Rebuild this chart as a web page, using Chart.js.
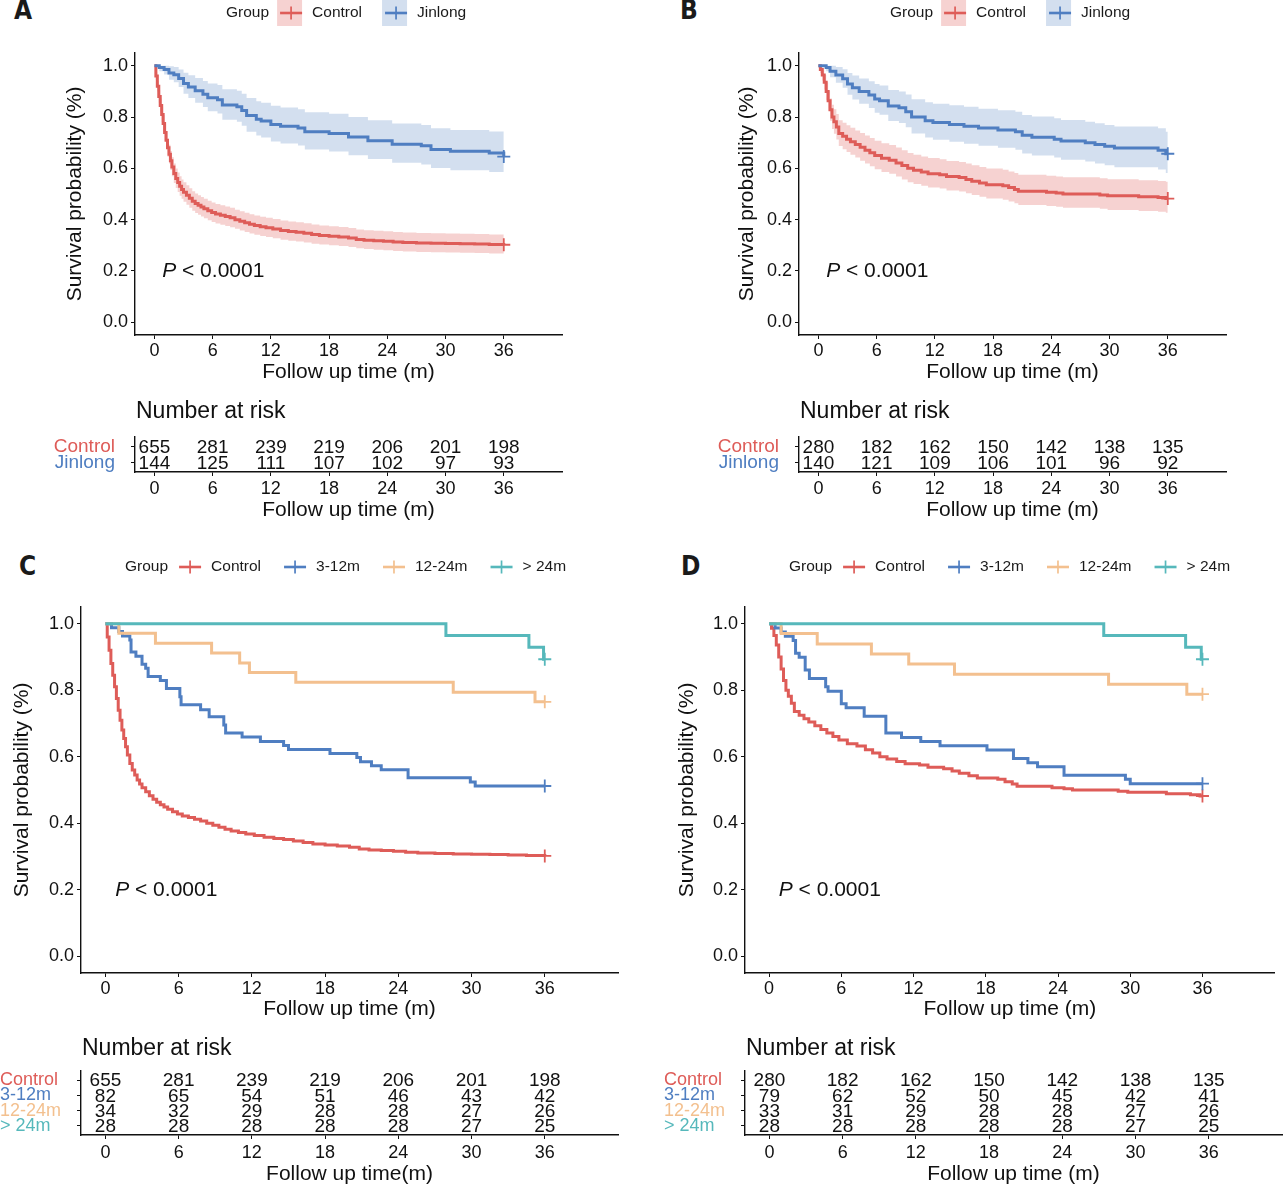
<!DOCTYPE html>
<html>
<head>
<meta charset="utf-8">
<script src="https://cdn.jsdelivr.net/npm/chart.js@4.4.1/dist/chart.umd.min.js"></script>
<style>
  body { margin: 0; background: #fff; width: 1283px; height: 1187px; position: relative; overflow: hidden; }
  .box { position: absolute; }
  .tag { position: absolute; font: bold 26px/26px "DejaVu Sans Condensed", "DejaVu Sans", sans-serif; color: #1a1a1a; }
</style>
</head>
<body>
<div class="tag" style="left:14px;top:-3px">A</div>
<div class="tag" style="left:680px;top:-3px">B</div>
<div class="tag" style="left:19px;top:553px">C</div>
<div class="tag" style="left:681px;top:553px">D</div>

<div class="box" style="left:0;top:0;width:640px;height:390px"><canvas id="kmA"></canvas></div>
<div class="box" style="left:664px;top:0;width:619px;height:390px"><canvas id="kmB"></canvas></div>
<div class="box" style="left:0;top:390px;width:640px;height:140px"><canvas id="riskA"></canvas></div>
<div class="box" style="left:664px;top:390px;width:619px;height:140px"><canvas id="riskB"></canvas></div>
<div class="box" style="left:0;top:550px;width:640px;height:480px"><canvas id="kmC"></canvas></div>
<div class="box" style="left:664px;top:550px;width:619px;height:480px"><canvas id="kmD"></canvas></div>
<div class="box" style="left:0;top:1030px;width:640px;height:157px"><canvas id="riskC"></canvas></div>
<div class="box" style="left:664px;top:1030px;width:619px;height:157px"><canvas id="riskD"></canvas></div>

<script>
// ---- data ----
const months = [0, 6, 12, 18, 24, 30, 36];
const survTicks = [0, 0.2, 0.4, 0.6, 0.8, 1.0];
const groupsAB = ['Control', 'Jinlong'];
const groupsCD = ['Control', '3-12m', '12-24m', '> 24m'];
const pValueText = ['P', ' < 0.0001'];

// Kaplan-Meier rows: [month, survival, lower CI, upper CI]
const controlA = [
  [0, 1.000, 1.000, 1.000], [0.15, 0.960, 0.945, 0.975], [0.3, 0.920, 0.900, 0.940],
  [0.45, 0.880, 0.856, 0.905], [0.6, 0.845, 0.818, 0.873], [0.75, 0.810, 0.781, 0.840],
  [0.9, 0.775, 0.744, 0.807], [1.05, 0.740, 0.707, 0.774], [1.2, 0.710, 0.676, 0.745],
  [1.35, 0.680, 0.645, 0.716], [1.5, 0.655, 0.619, 0.692], [1.65, 0.630, 0.594, 0.668],
  [1.8, 0.605, 0.569, 0.643], [2.0, 0.580, 0.543, 0.619], [2.2, 0.560, 0.523, 0.599],
  [2.4, 0.545, 0.508, 0.584], [2.6, 0.530, 0.493, 0.569], [2.8, 0.518, 0.481, 0.557],
  [3.0, 0.507, 0.470, 0.546], [3.3, 0.495, 0.458, 0.534], [3.6, 0.483, 0.446, 0.522],
  [3.9, 0.472, 0.435, 0.511], [4.2, 0.463, 0.426, 0.502], [4.5, 0.456, 0.419, 0.495],
  [4.8, 0.449, 0.412, 0.488], [5.1, 0.442, 0.405, 0.481], [5.5, 0.435, 0.398, 0.474],
  [5.9, 0.428, 0.391, 0.467], [6.3, 0.422, 0.385, 0.461], [6.8, 0.417, 0.380, 0.456],
  [7.3, 0.412, 0.375, 0.451], [7.8, 0.407, 0.370, 0.446], [8.3, 0.400, 0.364, 0.439],
  [8.8, 0.394, 0.358, 0.433], [9.3, 0.388, 0.352, 0.427], [9.8, 0.382, 0.346, 0.421],
  [10.3, 0.377, 0.341, 0.416], [10.9, 0.372, 0.336, 0.411], [11.5, 0.368, 0.332, 0.407],
  [12.2, 0.363, 0.327, 0.402], [13.0, 0.358, 0.322, 0.397], [13.8, 0.354, 0.318, 0.393],
  [14.6, 0.351, 0.315, 0.390], [15.4, 0.347, 0.311, 0.386], [16.2, 0.342, 0.306, 0.381],
  [17.0, 0.338, 0.303, 0.377], [18.0, 0.335, 0.300, 0.374], [19.0, 0.332, 0.297, 0.371],
  [20.0, 0.328, 0.293, 0.367], [20.8, 0.323, 0.288, 0.362], [21.6, 0.320, 0.285, 0.359],
  [22.6, 0.318, 0.283, 0.357], [23.6, 0.316, 0.281, 0.355], [24.6, 0.313, 0.278, 0.352],
  [25.6, 0.311, 0.276, 0.350], [27.0, 0.309, 0.274, 0.348], [28.5, 0.308, 0.273, 0.347],
  [30.0, 0.307, 0.272, 0.346], [31.5, 0.306, 0.271, 0.345], [33.0, 0.305, 0.270, 0.344],
  [34.5, 0.303, 0.268, 0.342], [36.0, 0.302, 0.267, 0.341]
];
const jinlongA = [
  [0, 1.000, 1.000, 1.000], [0.5, 0.993, 0.979, 1.000], [1.0, 0.986, 0.966, 1.000],
  [1.5, 0.972, 0.946, 0.998], [2.0, 0.965, 0.936, 0.995], [2.5, 0.951, 0.917, 0.986],
  [3.0, 0.931, 0.891, 0.973], [3.5, 0.917, 0.874, 0.963], [4.2, 0.903, 0.856, 0.952],
  [5.0, 0.889, 0.839, 0.941], [5.5, 0.875, 0.823, 0.931], [6.5, 0.868, 0.814, 0.925],
  [7.0, 0.847, 0.790, 0.909], [8.5, 0.840, 0.782, 0.903], [9.0, 0.826, 0.766, 0.891],
  [9.5, 0.806, 0.743, 0.874], [10.5, 0.792, 0.728, 0.862], [11.0, 0.785, 0.720, 0.856],
  [12.0, 0.771, 0.705, 0.844], [13.0, 0.764, 0.697, 0.837], [14.8, 0.757, 0.689, 0.831],
  [15.5, 0.743, 0.674, 0.819], [18.0, 0.736, 0.666, 0.813], [20.0, 0.722, 0.651, 0.800],
  [22.0, 0.708, 0.637, 0.788], [24.5, 0.694, 0.622, 0.775], [27.5, 0.688, 0.615, 0.769],
  [28.5, 0.674, 0.601, 0.756], [30.5, 0.667, 0.593, 0.750], [34.5, 0.660, 0.586, 0.744],
  [36.0, 0.646, 0.572, 0.730]
];
const controlB = [
  [0, 1.000, 1.000, 1.000], [0.2, 0.986, 0.972, 1.000], [0.4, 0.964, 0.943, 0.986],
  [0.6, 0.936, 0.908, 0.964], [0.8, 0.900, 0.866, 0.936], [1.0, 0.864, 0.825, 0.904],
  [1.2, 0.829, 0.786, 0.873], [1.4, 0.800, 0.754, 0.848], [1.6, 0.782, 0.735, 0.831],
  [1.85, 0.761, 0.713, 0.812], [2.1, 0.736, 0.687, 0.788], [2.5, 0.725, 0.675, 0.778],
  [2.9, 0.714, 0.664, 0.768], [3.3, 0.704, 0.653, 0.758], [3.8, 0.693, 0.642, 0.748],
  [4.3, 0.682, 0.630, 0.738], [4.8, 0.671, 0.619, 0.728], [5.3, 0.661, 0.608, 0.718],
  [5.8, 0.650, 0.597, 0.708], [6.5, 0.639, 0.586, 0.698], [7.3, 0.632, 0.579, 0.691],
  [8.0, 0.621, 0.568, 0.681], [8.6, 0.611, 0.557, 0.671], [9.2, 0.600, 0.546, 0.660],
  [9.8, 0.593, 0.539, 0.653], [10.6, 0.586, 0.532, 0.646], [11.3, 0.579, 0.525, 0.640],
  [12.5, 0.575, 0.521, 0.636], [13.2, 0.568, 0.514, 0.629], [14.5, 0.564, 0.510, 0.625],
  [15.2, 0.557, 0.503, 0.619], [15.8, 0.550, 0.496, 0.612], [16.6, 0.543, 0.489, 0.605],
  [17.3, 0.536, 0.482, 0.599], [19.0, 0.532, 0.478, 0.595], [19.6, 0.525, 0.471, 0.588],
  [20.2, 0.518, 0.464, 0.582], [20.6, 0.511, 0.457, 0.575], [23.5, 0.507, 0.453, 0.571],
  [24.5, 0.504, 0.450, 0.568], [25.2, 0.500, 0.446, 0.565], [29.0, 0.496, 0.442, 0.561],
  [29.8, 0.493, 0.438, 0.558], [33.0, 0.489, 0.434, 0.554], [35.0, 0.486, 0.431, 0.551],
  [35.8, 0.482, 0.427, 0.548], [36.0, 0.482, 0.427, 0.548]
];
const jinlongB = [
  [0, 1.000, 1.000, 1.000], [0.8, 0.993, 0.979, 1.000], [1.2, 0.979, 0.955, 1.000],
  [1.8, 0.964, 0.934, 0.995], [2.5, 0.950, 0.914, 0.987], [3.0, 0.929, 0.887, 0.972],
  [3.5, 0.914, 0.869, 0.962], [4.2, 0.900, 0.852, 0.951], [5.2, 0.886, 0.835, 0.940],
  [5.8, 0.871, 0.817, 0.929], [6.3, 0.864, 0.809, 0.923], [7.2, 0.843, 0.785, 0.906],
  [8.3, 0.836, 0.777, 0.900], [9.0, 0.821, 0.760, 0.888], [9.6, 0.800, 0.736, 0.870],
  [11.0, 0.786, 0.720, 0.858], [11.8, 0.779, 0.712, 0.852], [13.5, 0.771, 0.704, 0.846],
  [15.0, 0.764, 0.696, 0.840], [16.5, 0.757, 0.688, 0.833], [18.5, 0.750, 0.680, 0.827],
  [20.3, 0.743, 0.673, 0.821], [21.0, 0.729, 0.658, 0.808], [22.0, 0.721, 0.650, 0.802],
  [24.3, 0.714, 0.642, 0.795], [25.0, 0.707, 0.634, 0.789], [27.5, 0.700, 0.627, 0.782],
  [28.5, 0.693, 0.619, 0.776], [29.5, 0.686, 0.612, 0.769], [30.5, 0.679, 0.604, 0.763],
  [35.0, 0.671, 0.596, 0.756], [35.8, 0.657, 0.582, 0.743], [36.0, 0.657, 0.582, 0.743]
];
// subgroup curves: [month, survival]
const early3to12C = [
  [0, 1.0], [0.5, 0.988], [1.1, 0.976], [1.4, 0.963], [2.0, 0.951], [2.1, 0.915], [2.5, 0.902],
  [3.0, 0.878], [3.3, 0.866], [3.5, 0.841], [4.5, 0.829], [5.0, 0.805], [6.1, 0.780], [6.2, 0.756],
  [7.8, 0.741], [8.5, 0.720], [9.7, 0.695], [9.85, 0.671], [11.2, 0.659], [12.7, 0.646], [14.6, 0.634],
  [15.0, 0.622], [18.4, 0.610], [20.6, 0.598], [20.9, 0.585], [21.8, 0.573], [22.6, 0.561],
  [24.8, 0.537], [29.9, 0.524], [30.3, 0.512], [36.0, 0.512]
];
const mid12to24C = [[0, 1.0], [1.1, 0.971], [4.1, 0.941], [8.7, 0.912], [11.0, 0.882], [11.8, 0.853], [15.6, 0.824], [28.5, 0.794], [35.2, 0.765], [36.0, 0.765]];
const late24C = [[0, 1.0], [27.9, 0.964], [34.7, 0.929], [35.9, 0.893], [36.0, 0.893]];
const early3to12D = [
  [0, 1.0], [0.5, 0.987], [1.0, 0.975], [1.35, 0.962], [2.0, 0.949], [2.2, 0.911], [2.5, 0.899],
  [3.0, 0.861], [3.35, 0.835], [4.7, 0.810], [4.9, 0.797], [6.0, 0.759], [6.4, 0.747], [7.9, 0.722],
  [9.7, 0.671], [11.0, 0.658], [12.6, 0.646], [14.2, 0.633], [18.1, 0.620], [20.3, 0.595],
  [21.5, 0.582], [22.3, 0.570], [24.5, 0.544], [29.6, 0.532], [30.0, 0.519], [36.0, 0.519]
];
const mid12to24D = [[0, 1.0], [1.0, 0.970], [4.0, 0.939], [8.5, 0.909], [11.6, 0.879], [15.4, 0.848], [28.2, 0.818], [34.7, 0.788], [36.0, 0.788]];
const late24D = [[0, 1.0], [27.8, 0.964], [34.6, 0.929], [35.9, 0.893], [36.0, 0.893]];

// number at risk
const riskControlA = [655, 281, 239, 219, 206, 201, 198];
const riskJinlongA = [144, 125, 111, 107, 102, 97, 93];
const riskControlB = [280, 182, 162, 150, 142, 138, 135];
const riskJinlongB = [140, 121, 109, 106, 101, 96, 92];
const riskEarlyC = [82, 65, 54, 51, 46, 43, 42];
const riskMidC = [34, 32, 29, 28, 28, 27, 26];
const riskLateC = [28, 28, 28, 28, 28, 27, 25];
const riskEarlyD = [79, 62, 52, 50, 45, 42, 41];
const riskMidD = [33, 31, 29, 28, 28, 27, 26];
const riskLateD = [28, 28, 28, 28, 28, 27, 25];

// ---- styling ----
const RED = '#DE5C58', BLUE = '#4F7EC1', ORANGE = '#F3C08F', TEAL = '#56B8BB';
const RED_BAND = 'rgba(222,92,88,0.28)', BLUE_BAND = 'rgba(79,126,193,0.25)';
const INK = '#111';
const FAM = 'Arial, "Liberation Sans", Helvetica, sans-serif';
Chart.defaults.font.family = FAM;
Chart.defaults.color = INK;
Chart.defaults.animation = false;

function curve(rows, color) {
  return {
    data: rows.map(r => ({ x: r[0], y: r[1] })),
    borderColor: color, borderWidth: 3, stepped: true,
    pointRadius: 0, fill: false, order: 1
  };
}
function band(rows, fillColor) {
  return [
    { data: rows.map(r => ({ x: r[0], y: r[3] })), borderColor: 'transparent', borderWidth: 0,
      pointRadius: 0, stepped: true, fill: false, order: 2 },
    { data: rows.map(r => ({ x: r[0], y: r[2] })), borderColor: 'transparent', borderWidth: 0,
      pointRadius: 0, stepped: true, fill: '-1', backgroundColor: fillColor, order: 2 }
  ];
}
function censor(rows, color) {
  const last = rows[rows.length - 1];
  return {
    data: [{ x: last[0], y: last[1] }], showLine: false, pointStyle: 'cross',
    pointRadius: 6.5, pointBorderWidth: 1.8, pointBorderColor: color, borderColor: color, order: 0
  };
}

const kmExtras = {
  id: 'kmExtras',
  afterDatasetsDraw(chart) {
    const ctx = chart.ctx;
    chart.data.datasets.forEach((ds, i) => {
      if (!ds.counts) return;
      const meta = chart.getDatasetMeta(i);
      ctx.save();
      ctx.font = '19px ' + FAM;
      ctx.fillStyle = INK;
      ctx.textAlign = 'center';
      ctx.textBaseline = 'middle';
      meta.data.forEach((pt, j) => ctx.fillText(String(ds.counts[j]), pt.x, pt.y + 1));
      ctx.restore();
    });
  },
  afterDraw(chart) {
    const o = chart.options.plugins.kmExtras || {};
    const ctx = chart.ctx;
    ctx.save();
    ctx.textBaseline = 'middle';
    if (o.pAt) {
      const x = chart.scales.x.getPixelForValue(o.pAt[0]);
      const y = chart.scales.y.getPixelForValue(o.pAt[1]);
      ctx.fillStyle = INK;
      ctx.font = 'italic 21px ' + FAM;
      ctx.fillText(pValueText[0], x, y);
      const w = ctx.measureText(pValueText[0]).width;
      ctx.font = '21px ' + FAM;
      ctx.fillText(pValueText[1], x + w, y);
    }
    if (o.tableTitle) {
      ctx.fillStyle = INK;
      ctx.font = '23px ' + FAM;
      ctx.fillText(o.tableTitle, chart.chartArea.left + 1, o.tableTitleY);
    }
    if (o.legend) {
      const L = o.legend;
      let x = L.x;
      ctx.font = '15.5px ' + FAM;
      ctx.fillStyle = '#1a1a1a';
      ctx.fillText('Group', x, L.y);
      x += ctx.measureText('Group').width + 8;
      L.items.forEach(it => {
        if (it.band) { ctx.fillStyle = it.band; ctx.fillRect(x, L.y - 13, 25, 26); }
        ctx.strokeStyle = it.color;
        ctx.lineWidth = 2.6;
        ctx.beginPath(); ctx.moveTo(x + 3, L.y); ctx.lineTo(x + 25, L.y); ctx.stroke();
        ctx.lineWidth = 1.7;
        ctx.beginPath(); ctx.moveTo(x + 14, L.y - 6.5); ctx.lineTo(x + 14, L.y + 6.5); ctx.stroke();
        x += 35;
        ctx.fillStyle = '#1a1a1a';
        ctx.fillText(it.label, x, L.y);
        x += ctx.measureText(it.label).width + 20;
      });
    }
    ctx.restore();
  }
};

function xAxis(h, titleText, tickPad, titleBottom) {
  return {
    type: 'linear', min: -2, max: 42,
    afterBuildTicks: s => { s.ticks = months.map(v => ({ value: v })); },
    afterFit: s => { s.height = h; },
    ticks: { font: { size: 18 }, color: INK, padding: tickPad, maxRotation: 0, autoSkip: false },
    grid: { drawOnChartArea: false, tickLength: 4, color: INK, lineWidth: 1 },
    border: { color: INK, width: 1.4 },
    title: { display: true, text: titleText, font: { size: 21 }, color: INK, padding: { top: 0, bottom: titleBottom } }
  };
}

function kmChart(id, p) {
  new Chart(document.getElementById(id), {
    type: 'line',
    data: { datasets: p.datasets },
    options: {
      responsive: true, maintainAspectRatio: false,
      layout: { padding: { top: p.top, right: p.right, left: 0, bottom: 0 } },
      scales: {
        x: xAxis(p.xH, 'Follow up time (m)', 1, p.xTitleBottom),
        y: {
          type: 'linear', min: -0.05, max: 1.05,
          afterBuildTicks: s => { s.ticks = survTicks.map(v => ({ value: v })); },
          afterFit: s => { s.width = p.yW; },
          ticks: { font: { size: 18 }, color: INK, padding: 3, autoSkip: false, callback: v => Number(v).toFixed(1) },
          grid: { drawOnChartArea: false, tickLength: 4, color: INK, lineWidth: 1 },
          border: { color: INK, width: 1.4 },
          title: { display: true, text: 'Survival probability (%)', font: { size: 21 }, color: INK, padding: { top: p.yTitleTop, bottom: 0 } }
        }
      },
      plugins: {
        legend: { display: false }, tooltip: { enabled: false },
        kmExtras: { pAt: [0.8, 0.2], legend: p.legend }
      }
    },
    plugins: [kmExtras]
  });
}

function riskChart(id, p) {
  const n = p.groups.length;
  const datasets = p.counts.map((c, g) => ({
    data: months.map(m => ({ x: m, y: g + 1 })),
    counts: c, showLine: false, pointRadius: 0
  }));
  new Chart(document.getElementById(id), {
    type: 'line',
    data: { datasets },
    options: {
      responsive: true, maintainAspectRatio: false,
      layout: { padding: { top: p.top, right: p.right, left: 0, bottom: 0 } },
      scales: {
        x: xAxis(p.xH, p.xTitle, p.tickPad, p.xTitleBottom),
        y: {
          type: 'linear', min: 0.4, max: n + 0.6, reverse: true,
          afterBuildTicks: s => { s.ticks = p.groups.map((g, i) => ({ value: i + 1 })); },
          afterFit: s => { s.width = p.yW; },
          ticks: {
            font: { size: p.labelSize }, padding: p.labelPad, autoSkip: false, crossAlign: p.labelAlign,
            callback: v => p.groups[Math.round(v) - 1],
            color: c => (c.tick ? p.colors[Math.round(c.tick.value) - 1] : INK)
          },
          grid: { drawOnChartArea: false, tickLength: 4, color: INK, lineWidth: 1 },
          border: { color: INK, width: 1.4 }
        }
      },
      plugins: {
        legend: { display: false }, tooltip: { enabled: false },
        kmExtras: { tableTitle: 'Number at risk', tableTitleY: p.titleY }
      }
    },
    plugins: [kmExtras]
  });
}

// ---- panels ----
const legendAB = [
  { label: groupsAB[0], color: RED, band: RED_BAND },
  { label: groupsAB[1], color: BLUE, band: BLUE_BAND }
];
const legendCD = [
  { label: groupsCD[0], color: RED }, { label: groupsCD[1], color: BLUE },
  { label: groupsCD[2], color: ORANGE }, { label: groupsCD[3], color: TEAL }
];

kmChart('kmA', {
  datasets: [curve(jinlongA, BLUE), curve(controlA, RED), ...band(jinlongA, BLUE_BAND), ...band(controlA, RED_BAND),
    censor(jinlongA, BLUE), censor(controlA, RED)],
  top: 53, right: 78, yW: 135, xH: 55, xTitleBottom: 5, yTitleTop: 63,
  legend: { x: 226, y: 13, items: legendAB }
});
kmChart('kmB', {
  datasets: [curve(jinlongB, BLUE), curve(controlB, RED), ...band(jinlongB, BLUE_BAND), ...band(controlB, RED_BAND),
    censor(jinlongB, BLUE), censor(controlB, RED)],
  top: 53, right: 57, yW: 135, xH: 55, xTitleBottom: 5, yTitleTop: 71,
  legend: { x: 226, y: 13, items: legendAB }
});
kmChart('kmC', {
  datasets: [curve(late24C, TEAL), curve(mid12to24C, ORANGE), curve(early3to12C, BLUE), curve(controlA, RED),
    censor(late24C, TEAL), censor(mid12to24C, ORANGE), censor(early3to12C, BLUE), censor(controlA, RED)],
  top: 57, right: 22, yW: 81, xH: 57, xTitleBottom: 8, yTitleTop: 10,
  legend: { x: 125, y: 17, items: legendCD }
});
kmChart('kmD', {
  datasets: [curve(late24D, TEAL), curve(mid12to24D, ORANGE), curve(early3to12D, BLUE), curve(controlB, RED),
    censor(late24D, TEAL), censor(mid12to24D, ORANGE), censor(early3to12D, BLUE), censor(controlB, RED)],
  top: 57, right: 1, yW: 81, xH: 57, xTitleBottom: 8, yTitleTop: 11,
  legend: { x: 125, y: 17, items: legendCD }
});

riskChart('riskA', {
  groups: groupsAB, colors: [RED, BLUE], counts: [riskControlA, riskJinlongA],
  top: 47, right: 78, yW: 135, xH: 58, tickPad: 2, xTitleBottom: 7, labelPad: 16, labelSize: 19, labelAlign: 'near',
  xTitle: 'Follow up time (m)', titleY: 22
});
riskChart('riskB', {
  groups: groupsAB, colors: [RED, BLUE], counts: [riskControlB, riskJinlongB],
  top: 47, right: 57, yW: 135, xH: 58, tickPad: 2, xTitleBottom: 7, labelPad: 16, labelSize: 19, labelAlign: 'near',
  xTitle: 'Follow up time (m)', titleY: 22
});
riskChart('riskC', {
  groups: groupsCD, colors: [RED, BLUE, ORANGE, TEAL], counts: [riskControlA, riskEarlyC, riskMidC, riskLateC],
  top: 41, right: 22, yW: 81, xH: 52, tickPad: 3, xTitleBottom: 0, labelPad: 17, labelSize: 18, labelAlign: 'far',
  xTitle: 'Follow up time(m)', titleY: 19
});
riskChart('riskD', {
  groups: groupsCD, colors: [RED, BLUE, ORANGE, TEAL], counts: [riskControlB, riskEarlyD, riskMidD, riskLateD],
  top: 41, right: 1, yW: 81, xH: 52, tickPad: 3, xTitleBottom: 0, labelPad: 17, labelSize: 18, labelAlign: 'far',
  xTitle: 'Follow up time (m)', titleY: 19
});
</script>
</body>
</html>
